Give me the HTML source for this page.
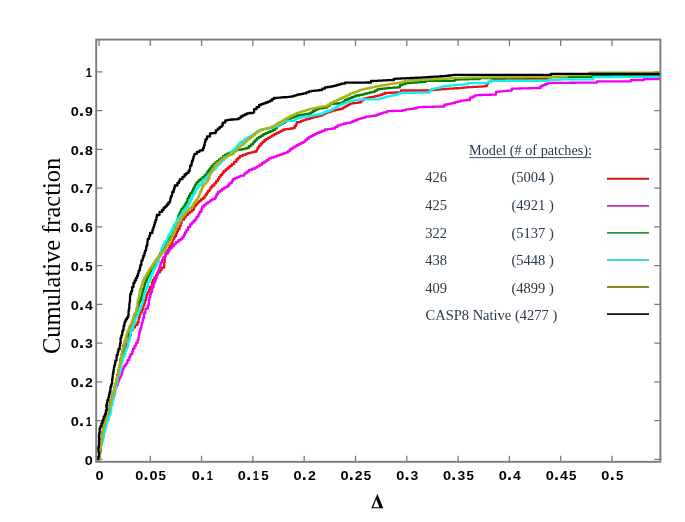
<!DOCTYPE html><html><head><meta charset="utf-8"><style>html,body{margin:0;padding:0;background:#fff;}svg{display:block;will-change:transform;}</style></head><body>
<svg width="685" height="522" viewBox="0 0 685 522">
<rect width="685" height="522" fill="#fff"/>
<defs><clipPath id="c"><rect x="96.2" y="39.6" width="564.1999999999999" height="422.2"/></clipPath></defs>
<path d="M99.0,461.8V455.8M99.0,39.6V45.9M150.3,461.8V455.8M150.3,39.6V45.9M201.6,461.8V455.8M201.6,39.6V45.9M252.9,461.8V455.8M252.9,39.6V45.9M304.2,461.8V455.8M304.2,39.6V45.9M355.5,461.8V455.8M355.5,39.6V45.9M406.8,461.8V455.8M406.8,39.6V45.9M458.1,461.8V455.8M458.1,39.6V45.9M509.4,461.8V455.8M509.4,39.6V45.9M560.7,461.8V455.8M560.7,39.6V45.9M612.0,461.8V455.8M612.0,39.6V45.9M96.2,459.3H102.4M660.4,459.3H654.1999999999999M96.2,420.6H102.4M660.4,420.6H654.1999999999999M96.2,381.8H102.4M660.4,381.8H654.1999999999999M96.2,343.1H102.4M660.4,343.1H654.1999999999999M96.2,304.3H102.4M660.4,304.3H654.1999999999999M96.2,265.6H102.4M660.4,265.6H654.1999999999999M96.2,226.8H102.4M660.4,226.8H654.1999999999999M96.2,188.1H102.4M660.4,188.1H654.1999999999999M96.2,149.3H102.4M660.4,149.3H654.1999999999999M96.2,110.6H102.4M660.4,110.6H654.1999999999999M96.2,71.8H102.4M660.4,71.8H654.1999999999999" stroke="#7c7c7c" stroke-width="1.3" fill="none"/>
<g clip-path="url(#c)" fill="none" stroke-width="2.3" stroke-linejoin="round">
<polyline points="99.00,459.30 98.87,459.30 98.87,456.89 99.92,456.89 99.92,454.48 99.27,454.48 99.27,452.06 99.95,452.06 99.95,449.65 100.74,449.65 100.74,447.24 100.16,447.24 100.16,444.82 100.93,444.82 100.93,442.41 101.00,442.41 101.00,440.00 101.98,440.00 101.98,437.50 102.22,437.50 102.22,435.00 102.12,435.00 102.12,432.50 103.00,432.50 103.00,430.00 104.04,430.00 104.04,427.50 103.77,427.50 103.77,425.00 104.70,425.00 104.70,422.50 105.50,422.50 105.50,420.00 106.37,420.00 106.37,417.50 107.24,417.50 107.24,415.00 107.71,415.00 107.71,412.50 108.50,412.50 108.50,410.00 108.72,410.00 108.72,407.50 110.21,407.50 110.21,405.00 110.46,405.00 110.46,402.50 111.00,402.50 111.00,400.00 112.12,400.00 112.12,397.68 112.55,397.68 112.55,395.35 112.72,395.35 112.72,393.02 114.23,393.02 114.23,390.70 114.14,390.70 114.14,388.38 114.84,388.38 114.84,386.05 116.20,386.05 116.20,383.72 116.60,383.72 116.60,381.40 117.03,381.40 117.03,379.10 117.61,379.10 117.61,376.80 118.56,376.80 118.56,374.50 118.31,374.50 118.31,372.20 118.64,372.20 118.64,369.90 119.65,369.90 119.65,367.60 119.84,367.60 119.84,365.30 120.60,365.30 120.60,363.00 120.98,363.00 120.98,360.60 122.08,360.60 122.08,358.20 122.48,358.20 122.48,355.80 123.12,355.80 123.12,353.40 123.50,353.40 123.50,351.00 124.06,351.00 124.06,348.80 125.41,348.80 125.41,346.60 126.86,346.60 126.86,344.40 127.38,344.40 127.38,342.20 128.50,342.20 128.50,340.00 128.82,340.00 128.82,337.50 129.63,337.50 129.63,335.00 130.84,335.00 130.84,332.50 131.00,332.50 131.00,330.00 132.75,330.00 132.75,327.50 135.00,327.50 135.00,325.00 137.40,325.00 137.40,322.50 138.56,322.50 138.56,319.83 138.88,319.83 138.88,317.17 139.70,317.17 139.70,314.50 140.41,314.50 140.41,312.20 142.04,312.20 142.04,309.90 142.84,309.90 142.84,307.60 143.26,307.60 143.26,305.30 144.30,305.30 144.30,303.00 145.00,303.00 145.00,300.33 146.01,300.33 146.01,297.67 146.60,297.67 146.60,295.00 147.42,295.00 147.42,292.33 148.97,292.33 148.97,289.67 150.00,289.67 150.00,287.00 151.80,287.00 151.80,284.60 152.11,284.60 152.11,282.30 152.90,282.30 152.90,280.00 154.30,280.00 154.30,277.50 156.00,277.50 156.00,275.00 157.51,275.00 157.51,272.50 160.00,272.50 160.00,270.00 161.67,270.00 161.67,267.60 164.30,267.60 164.30,265.20 164.24,265.20 164.24,262.35 164.60,262.35 164.60,259.50 164.79,259.50 164.79,256.60 165.60,256.60 165.60,253.70 166.33,253.70 166.33,251.80 167.58,251.80 167.58,249.90 169.00,249.90 169.00,248.00 170.11,248.00 170.11,245.70 171.51,245.70 171.51,243.40 172.34,243.40 172.34,241.10 172.92,241.10 172.92,238.80 174.30,238.80 174.30,236.50 175.85,236.50 175.85,234.00 176.77,234.00 176.77,231.50 178.00,231.50 178.00,229.00 179.62,229.00 179.62,226.00 180.60,226.00 180.60,223.00 181.60,223.00 181.60,219.70 184.01,219.70 184.01,217.35 185.80,217.35 185.80,215.00 187.90,215.00 187.90,213.12 190.00,213.12 190.00,211.56 192.10,211.56 192.10,209.80 193.81,209.80 193.81,207.95 194.32,207.95 194.32,206.10 195.85,206.10 195.85,204.25 197.40,204.25 197.40,202.40 199.17,202.40 199.17,201.04 200.93,201.04 200.93,199.39 202.70,199.39 202.70,198.20 204.42,198.20 204.42,196.35 205.56,196.35 205.56,194.50 206.97,194.50 206.97,192.65 208.00,192.65 208.00,190.80 209.75,190.80 209.75,189.03 210.55,189.03 210.55,187.27 212.20,187.27 212.20,185.50 214.30,185.50 214.30,183.40 215.99,183.40 215.99,181.20 217.95,181.20 217.95,179.00 219.10,179.00 219.10,176.80 220.58,176.80 220.58,174.87 222.41,174.87 222.41,172.93 223.70,172.93 223.70,171.00 225.72,171.00 225.72,169.35 227.75,169.35 227.75,167.53 229.78,167.53 229.78,165.88 231.80,165.88 231.80,164.10 234.10,164.10 234.10,161.81 236.40,161.81 236.40,159.50 238.10,159.50 238.10,157.96 239.80,157.96 239.80,156.10 242.70,156.10 242.70,154.95 245.60,154.95 245.60,153.80 247.90,153.80 247.90,153.20 250.20,153.20 250.20,152.60 252.50,152.60 252.50,152.05 254.80,152.05 254.80,151.50 256.70,151.50 256.70,149.70 257.59,149.70 257.59,147.67 258.99,147.67 258.99,145.63 260.70,145.63 260.70,143.60 262.50,143.60 262.50,141.93 264.30,141.93 264.30,140.24 266.10,140.24 266.10,138.90 268.10,138.90 268.10,137.72 270.10,137.72 270.10,136.55 272.10,136.55 272.10,135.38 274.10,135.38 274.10,134.20 276.45,134.20 276.45,133.02 278.80,133.02 278.80,131.85 281.15,131.85 281.15,130.68 283.50,130.68 283.50,129.50 285.85,129.50 285.85,129.18 288.20,129.18 288.20,128.85 290.55,128.85 290.55,128.52 292.90,128.52 292.90,128.20 294.63,128.20 294.63,126.20 295.86,126.20 295.86,124.20 296.90,124.20 296.90,122.20 301.00,122.20 301.00,120.80 303.32,120.80 303.32,120.12 305.65,120.12 305.65,119.45 307.98,119.45 307.98,118.77 310.30,118.77 310.30,118.10 312.65,118.10 312.65,117.45 315.00,117.45 315.00,116.80 317.35,116.80 317.35,116.15 319.70,116.15 319.70,115.50 322.35,115.50 322.35,114.25 325.00,114.25 325.00,113.00 327.50,113.00 327.50,112.22 330.00,112.22 330.00,111.45 332.50,111.45 332.50,110.68 335.00,110.68 335.00,109.90 338.10,109.90 338.10,109.25 341.20,109.25 341.20,108.60 343.38,108.60 343.38,107.35 345.55,107.35 345.55,106.10 347.72,106.10 347.72,104.85 349.90,104.85 349.90,103.60 352.80,103.60 352.80,103.20 355.70,103.20 355.70,102.80 358.60,102.80 358.60,102.40 361.10,102.40 361.10,100.37 363.60,100.37 363.60,98.60 365.78,98.60 365.78,98.15 367.95,98.15 367.95,97.70 370.12,97.70 370.12,97.25 372.30,97.25 372.30,96.80 374.80,96.80 374.80,96.17 377.30,96.17 377.30,95.53 379.80,95.53 379.80,94.90 382.30,94.90 382.30,93.95 384.80,93.95 384.80,93.00 387.28,93.00 387.28,92.88 389.76,92.88 389.76,92.76 392.24,92.76 392.24,92.64 394.72,92.64 394.72,92.52 397.20,92.52 397.20,92.40 401.00,92.40 401.00,90.50 403.35,90.50 403.35,90.50 405.71,90.50 405.71,90.50 408.06,90.50 408.06,90.50 410.42,90.50 410.42,90.50 412.77,90.50 412.77,90.50 415.13,90.50 415.13,90.50 417.48,90.50 417.48,90.50 419.84,90.50 419.84,90.50 422.19,90.50 422.19,90.50 424.55,90.50 424.55,90.50 426.90,90.50 426.90,90.50 429.40,90.50 429.40,90.29 431.90,90.29 431.90,90.07 434.40,90.07 434.40,89.86 436.90,89.86 436.90,89.64 439.40,89.64 439.40,89.43 441.90,89.43 441.90,89.21 444.40,89.21 444.40,89.00 446.73,89.00 446.73,88.85 449.07,88.85 449.07,88.70 451.40,88.70 451.40,88.55 453.73,88.55 453.73,88.40 456.07,88.40 456.07,88.25 458.40,88.25 458.40,88.10 460.75,88.10 460.75,87.88 463.10,87.88 463.10,87.65 465.45,87.65 465.45,87.42 467.80,87.42 467.80,87.20 470.24,87.20 470.24,87.08 472.68,87.08 472.68,86.96 475.12,86.96 475.12,86.84 477.56,86.84 477.56,86.72 480.00,86.72 480.00,86.60 482.50,86.60 482.50,86.30 485.00,86.30 485.00,86.00 486.94,86.00 486.94,84.00 488.00,84.00 488.00,82.00 491.00,82.00 491.00,80.60 493.33,80.60 493.33,80.27 495.67,80.27 495.67,79.93 498.00,79.93 498.00,79.60 500.33,79.60 500.33,79.27 502.67,79.27 502.67,78.93 505.00,78.93 505.00,78.60 507.28,78.60 507.28,78.59 509.56,78.59 509.56,78.59 511.83,78.59 511.83,78.58 514.11,78.58 514.11,78.58 516.39,78.58 516.39,78.57 518.67,78.57 518.67,78.57 520.94,78.57 520.94,78.56 523.22,78.56 523.22,78.56 525.50,78.56 525.50,78.55 527.78,78.55 527.78,78.54 530.06,78.54 530.06,78.54 532.33,78.54 532.33,78.53 534.61,78.53 534.61,78.53 536.89,78.53 536.89,78.52 539.17,78.52 539.17,78.52 541.44,78.52 541.44,78.51 543.72,78.51 543.72,78.51 546.00,78.51 546.00,78.50 548.00,78.50 548.00,77.00 550.22,77.00 550.22,76.98 552.43,76.98 552.43,76.96 554.65,76.96 554.65,76.94 556.86,76.94 556.86,76.92 559.08,76.92 559.08,76.90 561.29,76.90 561.29,76.88 563.51,76.88 563.51,76.86 565.73,76.86 565.73,76.84 567.94,76.84 567.94,76.82 570.16,76.82 570.16,76.80 572.37,76.80 572.37,76.78 574.59,76.78 574.59,76.76 576.80,76.76 576.80,76.75 579.02,76.75 579.02,76.73 581.24,76.73 581.24,76.71 583.45,76.71 583.45,76.69 585.67,76.69 585.67,76.67 587.88,76.67 587.88,76.65 590.10,76.65 590.10,76.63 592.31,76.63 592.31,76.61 594.53,76.61 594.53,76.59 596.75,76.59 596.75,76.57 598.96,76.57 598.96,76.55 601.18,76.55 601.18,76.53 603.39,76.53 603.39,76.51 605.61,76.51 605.61,76.49 607.82,76.49 607.82,76.47 610.04,76.47 610.04,76.45 612.25,76.45 612.25,76.43 614.47,76.43 614.47,76.41 616.69,76.41 616.69,76.39 618.90,76.39 618.90,76.37 621.12,76.37 621.12,76.35 623.33,76.35 623.33,76.33 625.55,76.33 625.55,76.31 627.76,76.31 627.76,76.29 629.98,76.29 629.98,76.27 632.20,76.27 632.20,76.25 634.41,76.25 634.41,76.24 636.63,76.24 636.63,76.22 638.84,76.22 638.84,76.20 641.06,76.20 641.06,76.18 643.27,76.18 643.27,76.16 645.49,76.16 645.49,76.14 647.71,76.14 647.71,76.12 649.92,76.12 649.92,76.10 652.14,76.10 652.14,76.08 654.35,76.08 654.35,76.06 656.57,76.06 656.57,76.04 658.78,76.04 658.78,76.02 661.00,76.02 661.00,76.00" stroke="#e8101a"/>
<polyline points="99.00,459.30 98.90,459.30 98.90,456.92 99.25,456.92 99.25,454.53 99.41,454.53 99.41,452.15 100.16,452.15 100.16,449.77 100.74,449.77 100.74,447.38 100.50,447.38 100.50,445.00 100.65,445.00 100.65,442.86 101.63,442.86 101.63,440.71 101.63,440.71 101.63,438.57 102.70,438.57 102.70,436.43 103.08,436.43 103.08,434.29 103.71,434.29 103.71,432.14 104.00,432.14 104.00,430.00 105.07,430.00 105.07,427.50 105.16,427.50 105.16,425.00 106.12,425.00 106.12,422.50 106.50,422.50 106.50,420.00 107.58,420.00 107.58,417.50 107.84,417.50 107.84,415.00 108.79,415.00 108.79,412.50 109.50,412.50 109.50,410.00 109.94,410.00 109.94,407.50 110.42,407.50 110.42,405.00 111.37,405.00 111.37,402.50 112.30,402.50 112.30,400.00 112.47,400.00 112.47,397.86 113.49,397.86 113.49,395.71 114.39,395.71 114.39,393.57 115.10,393.57 115.10,391.43 115.16,391.43 115.16,389.29 115.51,389.29 115.51,387.14 116.50,387.14 116.50,385.00 117.78,385.00 117.78,382.50 118.50,382.50 118.50,380.00 119.42,380.00 119.42,377.25 120.70,377.25 120.70,374.50 122.14,374.50 122.14,371.80 122.58,371.80 122.58,369.10 123.60,369.10 123.60,366.40 125.13,366.40 125.13,364.70 126.40,364.70 126.40,363.00 127.47,363.00 127.47,360.10 129.30,360.10 129.30,357.20 130.29,357.20 130.29,354.35 132.20,354.35 132.20,351.50 133.08,351.50 133.08,348.60 134.50,348.60 134.50,345.70 136.14,345.70 136.14,342.85 137.60,342.85 137.60,340.00 138.42,340.00 138.42,337.65 138.72,337.65 138.72,335.30 139.28,335.30 139.28,332.95 139.70,332.95 139.70,330.60 140.53,330.60 140.53,328.00 141.36,328.00 141.36,325.40 141.80,325.40 141.80,322.80 142.60,322.80 142.60,320.20 143.20,320.20 143.20,317.90 144.08,317.90 144.08,315.60 143.94,315.60 143.94,313.30 145.31,313.30 145.31,311.00 145.50,311.00 145.50,308.70 147.80,308.70 147.80,305.30 148.74,305.30 148.74,302.60 148.89,302.60 148.89,299.90 149.50,299.90 149.50,297.20 150.18,297.20 150.18,294.62 150.89,294.62 150.89,292.05 152.07,292.05 152.07,289.47 152.40,289.47 152.40,286.90 153.64,286.90 153.64,284.60 153.95,284.60 153.95,282.30 155.20,282.30 155.20,280.00 155.93,280.00 155.93,277.80 157.00,277.80 157.00,275.60 157.40,275.60 157.40,273.00 158.11,273.00 158.11,270.40 159.28,270.40 159.28,267.80 159.90,267.80 159.90,265.20 160.67,265.20 160.67,262.53 161.99,262.53 161.99,259.87 163.30,259.87 163.30,257.20 165.16,257.20 165.16,255.36 165.70,255.36 165.70,253.52 167.89,253.52 167.89,251.68 168.97,251.68 168.97,249.84 170.20,249.84 170.20,248.00 172.13,248.00 172.13,246.05 174.07,246.05 174.07,244.04 176.00,244.04 176.00,242.20 178.30,242.20 178.30,240.24 180.60,240.24 180.60,238.80 182.52,238.80 182.52,236.90 184.00,236.90 184.00,235.00 184.90,235.00 184.90,232.50 186.40,232.50 186.40,230.00 188.11,230.00 188.11,227.25 190.00,227.25 190.00,224.50 191.77,224.50 191.77,222.71 193.53,222.71 193.53,220.74 195.30,220.74 195.30,219.30 196.50,219.30 196.50,216.83 198.39,216.83 198.39,214.37 199.50,214.37 199.50,211.90 201.35,211.90 201.35,209.25 202.20,209.25 202.20,206.60 204.00,206.60 204.00,205.09 205.80,205.09 205.80,203.40 207.93,203.40 207.93,202.05 210.07,202.05 210.07,200.34 212.20,200.34 212.20,199.20 214.80,199.20 214.80,198.00 215.85,198.00 215.85,196.00 216.62,196.00 216.62,194.00 218.00,194.00 218.00,192.00 220.00,192.00 220.00,190.56 222.00,190.56 222.00,189.00 224.10,189.00 224.10,187.59 226.20,187.59 226.20,186.56 228.30,186.56 228.30,185.00 229.61,185.00 229.61,183.03 231.83,183.03 231.83,181.07 232.90,181.07 232.90,179.10 234.93,179.10 234.93,178.22 236.95,178.22 236.95,177.35 238.97,177.35 238.97,176.47 241.00,176.47 241.00,175.60 244.40,175.60 244.40,173.30 246.70,173.30 246.70,171.61 249.00,171.61 249.00,169.90 251.90,169.90 251.90,168.75 254.80,168.75 254.80,167.60 257.20,167.60 257.20,166.29 259.60,166.29 259.60,164.64 262.00,164.64 262.00,163.00 264.27,163.00 264.27,161.58 266.53,161.58 266.53,160.10 268.80,160.10 268.80,158.40 271.47,158.40 271.47,157.50 274.13,157.50 274.13,156.60 276.80,156.60 276.80,155.70 279.15,155.70 279.15,154.85 281.50,154.85 281.50,154.00 283.85,154.00 283.85,153.15 286.20,153.15 286.20,152.30 288.20,152.30 288.20,150.85 290.20,150.85 290.20,149.00 292.43,149.00 292.43,147.67 294.67,147.67 294.67,146.33 296.90,146.33 296.90,145.00 299.13,145.00 299.13,143.87 301.37,143.87 301.37,142.73 303.60,142.73 303.60,141.60 305.40,141.60 305.40,139.85 307.20,139.85 307.20,138.51 309.00,138.51 309.00,136.90 311.00,136.90 311.00,135.90 313.00,135.90 313.00,134.90 315.00,134.90 315.00,133.90 317.00,133.90 317.00,132.90 319.67,132.90 319.67,131.77 322.33,131.77 322.33,130.63 325.00,130.63 325.00,129.50 327.50,129.50 327.50,129.17 330.00,129.17 330.00,128.83 332.50,128.83 332.50,128.50 335.00,128.50 335.00,127.06 337.50,127.06 337.50,125.40 340.60,125.40 340.60,124.45 343.70,124.45 343.70,123.50 346.80,123.50 346.80,122.90 349.90,122.90 349.90,122.30 352.40,122.30 352.40,121.27 354.90,121.27 354.90,120.23 357.40,120.23 357.40,119.20 359.57,119.20 359.57,118.58 361.75,118.58 361.75,117.95 363.93,117.95 363.93,117.33 366.10,117.33 366.10,116.70 369.00,116.70 369.00,116.30 371.90,116.30 371.90,115.90 374.80,115.90 374.80,115.50 376.98,115.50 376.98,114.70 379.15,114.70 379.15,113.90 381.32,113.90 381.32,113.10 383.50,113.10 383.50,112.30 387.30,112.30 387.30,111.10 389.84,111.10 389.84,111.04 392.38,111.04 392.38,110.98 394.92,110.98 394.92,110.92 397.46,110.92 397.46,110.86 400.00,110.86 400.00,110.80 402.90,110.80 402.90,110.10 405.80,110.10 405.80,109.40 408.75,109.40 408.75,109.10 411.70,109.10 411.70,108.80 414.03,108.80 414.03,108.23 416.37,108.23 416.37,107.67 418.70,107.67 418.70,107.10 420.92,107.10 420.92,107.04 423.14,107.04 423.14,106.98 425.36,106.98 425.36,106.92 427.58,106.92 427.58,106.86 429.80,106.86 429.80,106.80 432.02,106.80 432.02,106.74 434.24,106.74 434.24,106.68 436.46,106.68 436.46,106.62 438.68,106.62 438.68,106.56 440.90,106.56 440.90,106.50 444.40,106.50 444.40,104.70 447.13,104.70 447.13,104.13 449.87,104.13 449.87,103.57 452.60,103.57 452.60,103.00 455.30,103.00 455.30,102.20 458.00,102.20 458.00,101.40 460.70,101.40 460.70,100.60 463.65,100.60 463.65,100.30 466.60,100.30 466.60,100.00 470.00,100.00 470.00,97.70 472.40,97.70 472.40,96.55 474.80,96.55 474.80,95.40 477.40,95.40 477.40,95.20 480.00,95.20 480.00,95.00 482.23,95.00 482.23,94.93 484.47,94.93 484.47,94.87 486.70,94.87 486.70,94.80 488.93,94.80 488.93,94.73 491.17,94.73 491.17,94.67 493.40,94.67 493.40,94.60 496.00,94.60 496.00,91.90 498.38,91.90 498.38,91.64 500.76,91.64 500.76,91.38 503.14,91.38 503.14,91.12 505.52,91.12 505.52,90.86 507.90,90.86 507.90,90.60 511.80,90.60 511.80,88.70 514.18,88.70 514.18,88.64 516.56,88.64 516.56,88.57 518.95,88.57 518.95,88.51 521.33,88.51 521.33,88.45 523.71,88.45 523.71,88.38 526.09,88.38 526.09,88.32 528.47,88.32 528.47,88.25 530.85,88.25 530.85,88.19 533.24,88.19 533.24,88.13 535.62,88.13 535.62,88.06 538.00,88.06 538.00,88.00 540.70,88.00 540.70,86.00 542.90,86.00 542.90,85.13 545.10,85.13 545.10,84.27 547.30,84.27 547.30,83.40 549.00,83.40 549.00,82.90 551.30,82.90 551.30,82.89 553.60,82.89 553.60,82.87 555.90,82.87 555.90,82.86 558.20,82.86 558.20,82.84 560.50,82.84 560.50,82.83 562.80,82.83 562.80,82.81 565.10,82.81 565.10,82.80 567.40,82.80 567.40,82.78 569.70,82.78 569.70,82.77 572.00,82.77 572.00,82.75 574.30,82.75 574.30,82.73 576.60,82.73 576.60,82.72 578.90,82.72 578.90,82.70 581.20,82.70 581.20,82.69 583.50,82.69 583.50,82.67 585.80,82.67 585.80,82.66 588.10,82.66 588.10,82.64 590.40,82.64 590.40,82.63 592.70,82.63 592.70,82.61 595.00,82.61 595.00,82.60 597.00,82.60 597.00,81.30 599.36,81.30 599.36,81.30 601.71,81.30 601.71,81.30 604.07,81.30 604.07,81.30 606.43,81.30 606.43,81.30 608.79,81.30 608.79,81.30 611.14,81.30 611.14,81.30 613.50,81.30 613.50,81.30 615.86,81.30 615.86,81.30 618.21,81.30 618.21,81.30 620.57,81.30 620.57,81.30 622.93,81.30 622.93,81.30 625.29,81.30 625.29,81.30 627.64,81.30 627.64,81.30 630.00,81.30 630.00,81.30 631.00,81.30 631.00,80.00 633.40,80.00 633.40,80.00 635.80,80.00 635.80,80.00 638.20,80.00 638.20,80.00 640.60,80.00 640.60,80.00 643.00,80.00 643.00,80.00 644.00,80.00 644.00,79.00 646.43,79.00 646.43,79.00 648.86,79.00 648.86,79.00 651.29,79.00 651.29,79.00 653.71,79.00 653.71,79.00 656.14,79.00 656.14,79.00 658.57,79.00 658.57,79.00 661.00,79.00 661.00,79.00" stroke="#f000f0"/>
<polyline points="99.00,459.30 99.21,459.30 99.21,456.92 99.06,456.92 99.06,454.53 100.04,454.53 100.04,452.15 100.46,452.15 100.46,449.77 100.30,449.77 100.30,447.38 100.50,447.38 100.50,445.00 100.53,445.00 100.53,442.50 101.50,442.50 101.50,440.00 102.10,440.00 102.10,437.50 101.79,437.50 101.79,435.00 102.43,435.00 102.43,432.50 103.00,432.50 103.00,430.00 103.50,430.00 103.50,427.50 104.46,427.50 104.46,425.00 105.19,425.00 105.19,422.50 105.50,422.50 105.50,420.00 106.19,420.00 106.19,417.50 107.20,417.50 107.20,415.00 107.46,415.00 107.46,412.50 108.30,412.50 108.30,410.00 109.27,410.00 109.27,407.50 109.58,407.50 109.58,405.00 110.32,405.00 110.32,402.50 110.90,402.50 110.90,400.00 111.79,400.00 111.79,397.68 112.19,397.68 112.19,395.35 113.27,395.35 113.27,393.02 114.00,393.02 114.00,390.70 114.29,390.70 114.29,388.38 115.25,388.38 115.25,386.05 115.55,386.05 115.55,383.72 116.10,383.72 116.10,381.40 116.72,381.40 116.72,379.10 117.14,379.10 117.14,376.80 117.23,376.80 117.23,374.50 118.30,374.50 118.30,372.20 118.38,372.20 118.38,369.90 119.34,369.90 119.34,367.60 119.51,367.60 119.51,365.30 120.10,365.30 120.10,363.00 120.59,363.00 120.59,360.70 120.59,360.70 120.59,358.40 121.91,358.40 121.91,356.10 121.73,356.10 121.73,353.80 122.40,353.80 122.40,351.50 123.31,351.50 123.31,349.20 123.21,349.20 123.21,346.90 123.50,346.90 123.50,344.60 124.58,344.60 124.58,342.30 125.00,342.30 125.00,340.00 125.92,340.00 125.92,337.65 126.71,337.65 126.71,335.30 127.97,335.30 127.97,332.95 128.50,332.95 128.50,330.60 129.42,330.60 129.42,328.48 129.90,328.48 129.90,326.36 131.46,326.36 131.46,324.24 132.43,324.24 132.43,322.12 133.00,322.12 133.00,320.00 134.13,320.00 134.13,317.74 134.30,317.74 134.30,315.48 136.11,315.48 136.11,313.22 136.13,313.22 136.13,310.96 137.40,310.96 137.40,308.70 137.70,308.70 137.70,306.52 138.86,306.52 138.86,304.35 138.96,304.35 138.96,302.18 140.00,302.18 140.00,300.00 140.96,300.00 140.96,297.88 141.58,297.88 141.58,295.75 142.22,295.75 142.22,293.62 142.60,293.62 142.60,291.50 143.10,291.50 143.10,289.20 144.16,289.20 144.16,286.90 144.41,286.90 144.41,284.60 145.14,284.60 145.14,282.30 146.00,282.30 146.00,280.00 146.92,280.00 146.92,277.75 147.86,277.75 147.86,275.50 149.04,275.50 149.04,273.25 150.50,273.25 150.50,271.00 151.19,271.00 151.19,269.08 152.31,269.08 152.31,267.17 153.75,267.17 153.75,265.25 154.78,265.25 154.78,263.33 156.29,263.33 156.29,261.42 157.00,261.42 157.00,259.50 158.51,259.50 158.51,257.20 159.61,257.20 159.61,254.90 160.32,254.90 160.32,252.60 161.62,252.60 161.62,250.30 163.00,250.30 163.00,248.00 163.75,248.00 163.75,245.70 164.94,245.70 164.94,243.40 166.16,243.40 166.16,241.10 167.71,241.10 167.71,238.80 169.00,238.80 169.00,236.50 170.19,236.50 170.19,234.33 171.30,234.33 171.30,232.17 172.10,232.17 172.10,230.00 173.40,230.00 173.40,227.50 175.40,227.50 175.40,225.00 176.35,225.00 176.35,222.15 177.40,222.15 177.40,219.30 178.24,219.30 178.24,217.18 178.52,217.18 178.52,215.05 179.50,215.05 179.50,212.93 180.60,212.93 180.60,210.80 181.53,210.80 181.53,208.70 183.42,208.70 183.42,206.60 184.80,206.60 184.80,204.50 185.98,204.50 185.98,202.38 187.39,202.38 187.39,200.25 187.61,200.25 187.61,198.12 189.00,198.12 189.00,196.00 190.07,196.00 190.07,193.40 192.10,193.40 192.10,190.80 193.06,190.80 193.06,188.70 194.27,188.70 194.27,186.60 195.30,186.60 195.30,184.50 196.41,184.50 196.41,182.40 198.50,182.40 198.50,180.30 200.60,180.30 200.60,178.85 202.70,178.85 202.70,177.10 204.60,177.10 204.60,175.27 206.50,175.27 206.50,173.30 207.52,173.30 207.52,171.46 208.87,171.46 208.87,169.62 210.38,169.62 210.38,167.78 211.53,167.78 211.53,165.94 213.40,165.94 213.40,164.10 215.30,164.10 215.30,162.52 217.20,162.52 217.20,161.11 219.10,161.11 219.10,159.50 221.03,159.50 221.03,158.07 222.97,158.07 222.97,156.14 224.90,156.14 224.90,154.90 227.20,154.90 227.20,153.75 229.50,153.75 229.50,152.60 232.35,152.60 232.35,151.45 235.20,151.45 235.20,150.30 237.50,150.30 237.50,149.93 239.80,149.93 239.80,149.57 242.10,149.57 242.10,149.20 244.40,149.20 244.40,148.60 246.70,148.60 246.70,148.00 248.85,148.00 248.85,146.27 251.00,146.27 251.00,144.30 253.28,144.30 253.28,142.30 254.74,142.30 254.74,140.30 256.70,140.30 256.70,138.30 258.93,138.30 258.93,136.91 261.17,136.91 261.17,135.53 263.40,135.53 263.40,134.20 265.75,134.20 265.75,133.20 268.10,133.20 268.10,132.20 270.45,132.20 270.45,131.20 272.80,131.20 272.80,130.20 274.80,130.20 274.80,128.30 276.80,128.30 276.80,126.20 278.71,126.20 278.71,125.18 280.63,125.18 280.63,123.85 282.54,123.85 282.54,123.00 284.46,123.00 284.46,121.87 286.37,121.87 286.37,120.40 288.29,120.40 288.29,119.20 290.20,119.20 290.20,118.10 292.43,118.10 292.43,117.23 294.67,117.23 294.67,116.37 296.90,116.37 296.90,115.50 299.32,115.50 299.32,115.10 301.74,115.10 301.74,114.70 304.16,114.70 304.16,114.30 306.58,114.30 306.58,113.90 309.00,113.90 309.00,113.50 311.00,113.50 311.00,112.33 313.00,112.33 313.00,111.15 315.00,111.15 315.00,109.97 317.00,109.97 317.00,108.80 319.67,108.80 319.67,108.33 322.33,108.33 322.33,107.87 325.00,107.87 325.00,107.40 327.50,107.40 327.50,105.63 330.00,105.63 330.00,104.20 332.24,104.20 332.24,103.96 334.48,103.96 334.48,103.72 336.72,103.72 336.72,103.48 338.96,103.48 338.96,103.24 341.20,103.24 341.20,103.00 343.10,103.00 343.10,101.67 345.00,101.67 345.00,99.90 347.22,99.90 347.22,99.02 349.44,99.02 349.44,98.14 351.66,98.14 351.66,97.26 353.88,97.26 353.88,96.38 356.10,96.38 356.10,95.50 359.25,95.50 359.25,94.90 362.40,94.90 362.40,94.30 364.88,94.30 364.88,93.67 367.35,93.67 367.35,93.05 369.82,93.05 369.82,92.42 372.30,92.42 372.30,91.80 374.80,91.80 374.80,90.55 377.30,90.55 377.30,89.30 379.80,89.30 379.80,88.97 382.30,88.97 382.30,88.65 384.80,88.65 384.80,88.33 387.30,88.33 387.30,88.00 389.77,88.00 389.77,87.85 392.25,87.85 392.25,87.70 394.73,87.70 394.73,87.55 397.20,87.55 397.20,87.40 400.00,87.40 400.00,85.00 402.50,85.00 402.50,84.15 405.00,84.15 405.00,83.30 407.46,83.30 407.46,83.10 409.91,83.10 409.91,82.90 412.37,82.90 412.37,82.70 414.83,82.70 414.83,82.50 417.29,82.50 417.29,82.30 419.74,82.30 419.74,82.10 422.20,82.10 422.20,81.90 425.70,81.90 425.70,80.80 427.94,80.80 427.94,80.80 430.18,80.80 430.18,80.80 432.43,80.80 432.43,80.80 434.67,80.80 434.67,80.80 436.91,80.80 436.91,80.80 439.15,80.80 439.15,80.80 441.39,80.80 441.39,80.80 443.63,80.80 443.63,80.80 445.88,80.80 445.88,80.80 448.12,80.80 448.12,80.80 450.36,80.80 450.36,80.80 452.60,80.80 452.60,80.80 454.90,80.80 454.90,79.60 457.24,79.60 457.24,79.53 459.59,79.53 459.59,79.47 461.93,79.47 461.93,79.40 464.28,79.40 464.28,79.33 466.62,79.33 466.62,79.27 468.97,79.27 468.97,79.20 471.31,79.20 471.31,79.13 473.66,79.13 473.66,79.07 476.00,79.07 476.00,79.00 480.00,79.00 480.00,78.00 482.50,78.00 482.50,78.03 485.00,78.03 485.00,78.05 487.50,78.05 487.50,78.07 490.00,78.07 490.00,78.10 492.20,78.10 492.20,78.07 494.40,78.07 494.40,78.04 496.60,78.04 496.60,78.01 498.80,78.01 498.80,77.97 501.00,77.97 501.00,77.94 503.20,77.94 503.20,77.91 505.40,77.91 505.40,77.88 507.60,77.88 507.60,77.85 509.80,77.85 509.80,77.82 512.00,77.82 512.00,77.79 514.20,77.79 514.20,77.75 516.40,77.75 516.40,77.72 518.60,77.72 518.60,77.69 520.80,77.69 520.80,77.66 523.00,77.66 523.00,77.63 525.20,77.63 525.20,77.60 527.40,77.60 527.40,77.57 529.60,77.57 529.60,77.53 531.80,77.53 531.80,77.50 534.00,77.50 534.00,77.47 536.20,77.47 536.20,77.44 538.40,77.44 538.40,77.41 540.60,77.41 540.60,77.38 542.80,77.38 542.80,77.35 545.00,77.35 545.00,77.31 547.20,77.31 547.20,77.28 549.40,77.28 549.40,77.25 551.60,77.25 551.60,77.22 553.80,77.22 553.80,77.19 556.00,77.19 556.00,77.16 558.20,77.16 558.20,77.13 560.40,77.13 560.40,77.09 562.60,77.09 562.60,77.06 564.80,77.06 564.80,77.03 567.00,77.03 567.00,77.00 569.27,77.00 569.27,76.98 571.55,76.98 571.55,76.96 573.82,76.96 573.82,76.95 576.09,76.95 576.09,76.93 578.36,76.93 578.36,76.91 580.64,76.91 580.64,76.89 582.91,76.89 582.91,76.87 585.18,76.87 585.18,76.85 587.45,76.85 587.45,76.84 589.73,76.84 589.73,76.82 592.00,76.82 592.00,76.80 593.00,76.80 593.00,75.00 595.27,75.00 595.27,75.00 597.53,75.00 597.53,75.00 599.80,75.00 599.80,75.00 602.07,75.00 602.07,75.00 604.33,75.00 604.33,75.00 606.60,75.00 606.60,75.00 608.87,75.00 608.87,75.00 611.13,75.00 611.13,75.00 613.40,75.00 613.40,75.00 615.67,75.00 615.67,75.00 617.93,75.00 617.93,75.00 620.20,75.00 620.20,75.00 622.47,75.00 622.47,75.00 624.73,75.00 624.73,75.00 627.00,75.00 627.00,75.00 629.27,75.00 629.27,75.00 631.53,75.00 631.53,75.00 633.80,75.00 633.80,75.00 636.07,75.00 636.07,75.00 638.33,75.00 638.33,75.00 640.60,75.00 640.60,75.00 642.87,75.00 642.87,75.00 645.13,75.00 645.13,75.00 647.40,75.00 647.40,75.00 649.67,75.00 649.67,75.00 651.93,75.00 651.93,75.00 654.20,75.00 654.20,75.00 656.47,75.00 656.47,75.00 658.73,75.00 658.73,75.00 661.00,75.00 661.00,75.00" stroke="#007f00"/>
<polyline points="99.00,459.30 99.00,459.30 99.00,455.00 99.75,455.00 99.75,452.50 100.01,452.50 100.01,450.00 100.09,450.00 100.09,447.50 101.00,447.50 101.00,445.00 101.96,445.00 101.96,442.86 102.60,442.86 102.60,440.71 102.47,440.71 102.47,438.57 103.51,438.57 103.51,436.43 103.84,436.43 103.84,434.29 104.34,434.29 104.34,432.14 105.00,432.14 105.00,430.00 105.25,430.00 105.25,427.50 106.33,427.50 106.33,425.00 106.76,425.00 106.76,422.50 107.50,422.50 107.50,420.00 108.63,420.00 108.63,417.50 109.24,417.50 109.24,415.00 110.51,415.00 110.51,412.50 111.00,412.50 111.00,410.00 111.32,410.00 111.32,407.50 111.34,407.50 111.34,405.00 112.49,405.00 112.49,402.50 112.60,402.50 112.60,400.00 113.45,400.00 113.45,397.68 113.51,397.68 113.51,395.35 114.57,395.35 114.57,393.02 114.72,393.02 114.72,390.70 115.23,390.70 115.23,388.38 115.94,388.38 115.94,386.05 116.23,386.05 116.23,383.72 117.20,383.72 117.20,381.40 117.47,381.40 117.47,379.10 117.76,379.10 117.76,376.80 118.32,376.80 118.32,374.50 119.63,374.50 119.63,372.20 120.24,372.20 120.24,369.90 120.29,369.90 120.29,367.60 120.86,367.60 120.86,365.30 121.30,365.30 121.30,363.00 122.17,363.00 122.17,360.91 123.19,360.91 123.19,358.82 123.07,358.82 123.07,356.73 124.32,356.73 124.32,354.64 125.36,354.64 125.36,352.55 125.39,352.55 125.39,350.45 126.40,350.45 126.40,348.36 127.49,348.36 127.49,346.27 128.19,346.27 128.19,344.18 128.05,344.18 128.05,342.09 129.20,342.09 129.20,340.00 129.56,340.00 129.56,337.65 130.37,337.65 130.37,335.30 130.50,335.30 130.50,332.95 131.10,332.95 131.10,330.60 131.57,330.60 131.57,328.52 132.92,328.52 132.92,326.44 133.39,326.44 133.39,324.36 134.54,324.36 134.54,322.28 135.10,322.28 135.10,320.20 135.55,320.20 135.55,317.90 136.53,317.90 136.53,315.60 137.97,315.60 137.97,313.30 138.67,313.30 138.67,311.00 139.70,311.00 139.70,308.70 140.74,308.70 140.74,306.40 141.74,306.40 141.74,304.10 142.27,304.10 142.27,301.80 143.13,301.80 143.13,299.50 143.70,299.50 143.70,297.20 144.11,297.20 144.11,294.62 144.90,294.62 144.90,292.05 145.69,292.05 145.69,289.47 146.60,289.47 146.60,286.90 147.90,286.90 147.90,284.60 148.05,284.60 148.05,282.30 149.50,282.30 149.50,280.00 150.44,280.00 150.44,277.75 150.96,277.75 150.96,275.50 152.21,275.50 152.21,273.25 153.00,273.25 153.00,271.00 153.67,271.00 153.67,268.70 155.30,268.70 155.30,266.40 156.55,266.40 156.55,264.10 157.23,264.10 157.23,261.80 158.70,261.80 158.70,259.50 158.86,259.50 158.86,257.20 159.62,257.20 159.62,254.90 160.74,254.90 160.74,252.60 161.28,252.60 161.28,250.30 161.60,250.30 161.60,248.00 163.07,248.00 163.07,245.10 164.50,245.10 164.50,242.20 166.13,242.20 166.13,240.30 167.14,240.30 167.14,238.40 167.90,238.40 167.90,236.50 168.93,236.50 168.93,234.57 170.50,234.57 170.50,232.63 171.40,232.63 171.40,230.70 172.82,230.70 172.82,227.85 173.70,227.85 173.70,225.00 175.36,225.00 175.36,223.13 176.59,223.13 176.59,221.26 177.92,221.26 177.92,219.39 179.08,219.39 179.08,217.51 180.21,217.51 180.21,215.64 181.61,215.64 181.61,213.77 182.70,213.77 182.70,211.90 183.84,211.90 183.84,209.78 185.62,209.78 185.62,207.66 186.90,207.66 186.90,205.54 188.70,205.54 188.70,203.42 190.00,203.42 190.00,201.30 190.72,201.30 190.72,199.20 191.91,199.20 191.91,197.10 192.72,197.10 192.72,195.00 193.96,195.00 193.96,192.90 195.30,192.90 195.30,190.80 196.48,190.80 196.48,188.87 197.68,188.87 197.68,186.93 199.00,186.93 199.00,185.00 201.46,185.00 201.46,182.50 203.00,182.50 203.00,180.00 204.72,180.00 204.72,178.59 206.45,178.59 206.45,176.53 208.18,176.53 208.18,174.75 209.90,174.75 209.90,173.30 211.14,173.30 211.14,171.58 212.54,171.58 212.54,169.87 214.73,169.87 214.73,168.15 215.93,168.15 215.93,166.43 217.92,166.43 217.92,164.72 219.10,164.72 219.10,163.00 220.94,163.00 220.94,161.27 222.78,161.27 222.78,159.73 224.62,159.73 224.62,158.05 226.46,158.05 226.46,156.34 228.30,156.34 228.30,154.90 230.49,154.90 230.49,153.18 231.97,153.18 231.97,151.45 233.17,151.45 233.17,149.72 235.20,149.72 235.20,148.00 236.75,148.00 236.75,146.10 238.26,146.10 238.26,144.20 239.80,144.20 239.80,142.30 242.10,142.30 242.10,141.05 244.40,141.05 244.40,139.11 246.70,139.11 246.70,137.70 249.00,137.70 249.00,136.55 251.30,136.55 251.30,135.40 253.18,135.40 253.18,134.04 255.06,134.04 255.06,132.79 256.94,132.79 256.94,131.61 258.82,131.61 258.82,130.49 260.70,130.49 260.70,129.50 263.05,129.50 263.05,129.18 265.40,129.18 265.40,128.85 267.75,128.85 267.75,128.52 270.10,128.52 270.10,128.20 272.33,128.20 272.33,127.30 274.57,127.30 274.57,126.40 276.80,126.40 276.80,125.50 278.82,125.50 278.82,124.33 280.85,124.33 280.85,123.15 282.88,123.15 282.88,121.97 284.90,121.97 284.90,120.80 287.57,120.80 287.57,120.80 290.23,120.80 290.23,120.80 292.90,120.80 292.90,120.80 294.90,120.80 294.90,119.29 296.90,119.29 296.90,118.10 299.57,118.10 299.57,117.60 302.25,117.60 302.25,117.10 304.93,117.10 304.93,116.60 307.60,116.60 307.60,116.10 310.02,116.10 310.02,115.70 312.44,115.70 312.44,115.30 314.86,115.30 314.86,114.90 317.28,114.90 317.28,114.50 319.70,114.50 319.70,114.10 321.76,114.10 321.76,113.30 323.82,113.30 323.82,112.50 325.88,112.50 325.88,111.70 327.94,111.70 327.94,110.90 330.00,110.90 330.00,110.10 332.50,110.10 332.50,108.60 334.68,108.60 334.68,107.50 336.85,107.50 336.85,106.40 339.02,106.40 339.02,105.30 341.20,105.30 341.20,104.20 343.27,104.20 343.27,103.40 345.33,103.40 345.33,102.60 347.40,102.60 347.40,101.80 349.57,101.80 349.57,101.33 351.75,101.33 351.75,100.85 353.93,100.85 353.93,100.38 356.10,100.38 356.10,99.90 359.25,99.90 359.25,99.60 362.40,99.60 362.40,99.30 364.88,99.30 364.88,99.30 367.37,99.30 367.37,99.30 369.85,99.30 369.85,99.30 372.33,99.30 372.33,99.30 374.82,99.30 374.82,99.30 377.30,99.30 377.30,99.30 379.80,99.30 379.80,98.47 382.30,98.47 382.30,97.63 384.80,97.63 384.80,96.80 387.27,96.80 387.27,96.33 389.75,96.33 389.75,95.85 392.23,95.85 392.23,95.38 394.70,95.38 394.70,94.90 397.35,94.90 397.35,93.95 400.00,93.95 400.00,93.00 402.33,93.00 402.33,92.96 404.67,92.96 404.67,92.92 407.00,92.92 407.00,92.88 409.33,92.88 409.33,92.83 411.67,92.83 411.67,92.79 414.00,92.79 414.00,92.75 416.33,92.75 416.33,92.71 418.67,92.71 418.67,92.67 421.00,92.67 421.00,92.62 423.33,92.62 423.33,92.58 425.67,92.58 425.67,92.54 428.00,92.54 428.00,92.50 429.75,92.50 429.75,90.89 431.50,90.89 431.50,89.00 434.23,89.00 434.23,88.40 436.97,88.40 436.97,87.80 439.70,87.80 439.70,87.20 442.05,87.20 442.05,86.60 444.40,86.60 444.40,86.00 446.61,86.00 446.61,85.81 448.82,85.81 448.82,85.62 451.03,85.62 451.03,85.43 453.24,85.43 453.24,85.24 455.46,85.24 455.46,85.06 457.67,85.06 457.67,84.87 459.88,84.87 459.88,84.68 462.09,84.68 462.09,84.49 464.30,84.49 464.30,84.30 467.80,84.30 467.80,83.10 470.01,83.10 470.01,83.11 472.23,83.11 472.23,83.12 474.44,83.12 474.44,83.14 476.65,83.14 476.65,83.15 478.86,83.15 478.86,83.16 481.07,83.16 481.07,83.17 483.29,83.17 483.29,83.19 485.50,83.19 485.50,83.20 488.15,83.20 488.15,82.00 490.80,82.00 490.80,80.80 493.05,80.80 493.05,80.80 495.30,80.80 495.30,80.80 497.54,80.80 497.54,80.80 499.79,80.80 499.79,80.80 502.04,80.80 502.04,80.80 504.29,80.80 504.29,80.80 506.54,80.80 506.54,80.80 508.78,80.80 508.78,80.80 511.03,80.80 511.03,80.80 513.28,80.80 513.28,80.80 515.53,80.80 515.53,80.80 517.78,80.80 517.78,80.80 520.02,80.80 520.02,80.80 522.27,80.80 522.27,80.80 524.52,80.80 524.52,80.80 526.77,80.80 526.77,80.80 529.02,80.80 529.02,80.80 531.26,80.80 531.26,80.80 533.51,80.80 533.51,80.80 535.76,80.80 535.76,80.80 538.01,80.80 538.01,80.80 540.26,80.80 540.26,80.80 542.50,80.80 542.50,80.80 544.75,80.80 544.75,80.80 547.00,80.80 547.00,80.80 548.00,80.80 548.00,79.80 550.40,79.80 550.40,79.80 552.80,79.80 552.80,79.80 555.20,79.80 555.20,79.80 557.60,79.80 557.60,79.80 560.00,79.80 560.00,79.80 560.50,79.80 560.50,79.30 562.82,79.30 562.82,79.30 565.14,79.30 565.14,79.30 567.46,79.30 567.46,79.30 569.79,79.30 569.79,79.30 572.11,79.30 572.11,79.30 574.43,79.30 574.43,79.30 576.75,79.30 576.75,79.30 579.07,79.30 579.07,79.30 581.39,79.30 581.39,79.30 583.71,79.30 583.71,79.30 586.04,79.30 586.04,79.30 588.36,79.30 588.36,79.30 590.68,79.30 590.68,79.30 593.00,79.30 593.00,79.30 593.50,79.30 593.50,77.10 595.75,77.10 595.75,77.09 598.00,77.09 598.00,77.08 600.25,77.08 600.25,77.07 602.50,77.07 602.50,77.06 604.75,77.06 604.75,77.05 607.00,77.05 607.00,77.04 609.25,77.04 609.25,77.03 611.50,77.03 611.50,77.02 613.75,77.02 613.75,77.01 616.00,77.01 616.00,77.00 618.25,77.00 618.25,76.99 620.50,76.99 620.50,76.98 622.75,76.98 622.75,76.97 625.00,76.97 625.00,76.96 627.25,76.96 627.25,76.95 629.50,76.95 629.50,76.94 631.75,76.94 631.75,76.93 634.00,76.93 634.00,76.92 636.25,76.92 636.25,76.91 638.50,76.91 638.50,76.90 640.75,76.90 640.75,76.89 643.00,76.89 643.00,76.88 645.25,76.88 645.25,76.87 647.50,76.87 647.50,76.86 649.75,76.86 649.75,76.85 652.00,76.85 652.00,76.84 654.25,76.84 654.25,76.83 656.50,76.83 656.50,76.82 658.75,76.82 658.75,76.81 661.00,76.81 661.00,76.80" stroke="#10f0f0"/>
<polyline points="99.00,459.30 99.71,459.30 99.71,456.92 99.97,456.92 99.97,454.53 99.59,454.53 99.59,452.15 100.15,452.15 100.15,449.77 100.50,449.77 100.50,447.38 100.50,447.38 100.50,445.00 101.22,445.00 101.22,442.50 101.50,442.50 101.50,440.00 102.36,440.00 102.36,437.50 102.14,437.50 102.14,435.00 102.41,435.00 102.41,432.50 103.00,432.50 103.00,430.00 103.61,430.00 103.61,427.50 103.78,427.50 103.78,425.00 104.52,425.00 104.52,422.50 105.50,422.50 105.50,420.00 106.55,420.00 106.55,417.50 107.00,417.50 107.00,415.00 107.18,415.00 107.18,412.50 108.30,412.50 108.30,410.00 108.65,410.00 108.65,407.50 110.05,407.50 110.05,405.00 110.65,405.00 110.65,402.50 110.90,402.50 110.90,400.00 111.45,400.00 111.45,397.68 112.49,397.68 112.49,395.35 112.79,395.35 112.79,393.02 113.49,393.02 113.49,390.70 114.03,390.70 114.03,388.38 114.63,388.38 114.63,386.05 115.57,386.05 115.57,383.72 116.10,383.72 116.10,381.40 116.67,381.40 116.67,379.10 116.98,379.10 116.98,376.80 117.63,376.80 117.63,374.50 118.31,374.50 118.31,372.20 118.41,372.20 118.41,369.90 118.84,369.90 118.84,367.60 119.30,367.60 119.30,365.30 120.10,365.30 120.10,363.00 121.04,363.00 121.04,360.70 121.15,360.70 121.15,358.40 121.52,358.40 121.52,356.10 121.45,356.10 121.45,353.80 122.40,353.80 122.40,351.50 122.43,351.50 122.43,349.20 123.33,349.20 123.33,346.90 124.20,346.90 124.20,344.60 124.43,344.60 124.43,342.30 124.80,342.30 124.80,340.00 125.99,340.00 125.99,337.65 126.46,337.65 126.46,335.30 126.88,335.30 126.88,332.95 127.60,332.95 127.60,330.60 128.99,330.60 128.99,328.52 129.46,328.52 129.46,326.44 130.58,326.44 130.58,324.36 131.51,324.36 131.51,322.28 132.20,322.28 132.20,320.20 133.24,320.20 133.24,317.90 133.63,317.90 133.63,315.60 134.46,315.60 134.46,313.30 135.96,313.30 135.96,311.00 136.30,311.00 136.30,308.70 137.20,308.70 137.20,306.40 137.53,306.40 137.53,304.10 137.47,304.10 137.47,301.80 137.95,301.80 137.95,299.50 138.60,299.50 138.60,297.20 139.23,297.20 139.23,294.62 139.59,294.62 139.59,292.05 139.90,292.05 139.90,289.47 140.90,289.47 140.90,286.90 141.70,286.90 141.70,284.60 142.40,284.60 142.40,282.30 143.20,282.30 143.20,280.00 144.25,280.00 144.25,277.75 145.58,277.75 145.58,275.50 146.94,275.50 146.94,273.25 148.40,273.25 148.40,271.00 149.39,271.00 149.39,269.08 150.60,269.08 150.60,267.17 152.19,267.17 152.19,265.25 153.24,265.25 153.24,263.33 154.57,263.33 154.57,261.42 155.90,261.42 155.90,259.50 157.25,259.50 157.25,257.58 158.83,257.58 158.83,255.67 161.04,255.67 161.04,253.75 162.46,253.75 162.46,251.83 164.28,251.83 164.28,249.92 165.60,249.92 165.60,248.00 166.41,248.00 166.41,245.70 167.82,245.70 167.82,243.40 169.45,243.40 169.45,241.10 171.20,241.10 171.20,238.80 172.00,238.80 172.00,236.50 172.55,236.50 172.55,234.33 174.20,234.33 174.20,232.17 174.80,232.17 174.80,230.00 175.84,230.00 175.84,227.50 177.10,227.50 177.10,225.00 177.78,225.00 177.78,223.03 179.62,223.03 179.62,221.05 180.82,221.05 180.82,219.07 181.60,219.07 181.60,217.10 182.84,217.10 182.84,215.37 184.79,215.37 184.79,213.63 185.80,213.63 185.80,211.90 187.44,211.90 187.44,210.05 189.08,210.05 189.08,208.20 191.63,208.20 191.63,206.35 193.20,206.35 193.20,204.50 194.15,204.50 194.15,202.38 195.56,202.38 195.56,200.25 197.57,200.25 197.57,198.12 198.50,198.12 198.50,196.00 199.39,196.00 199.39,193.90 200.03,193.90 200.03,191.80 201.33,191.80 201.33,189.70 202.01,189.70 202.01,187.60 202.70,187.60 202.70,185.50 204.49,185.50 204.49,183.33 206.49,183.33 206.49,181.17 208.00,181.17 208.00,179.00 209.50,179.00 209.50,175.00 210.27,175.00 210.27,172.57 211.87,172.57 211.87,170.15 213.71,170.15 213.71,167.73 214.50,167.73 214.50,165.30 216.34,165.30 216.34,163.47 218.18,163.47 218.18,162.29 220.02,162.29 220.02,160.44 221.86,160.44 221.86,158.89 223.70,158.89 223.70,157.20 226.40,157.20 226.40,156.07 229.10,156.07 229.10,154.93 231.80,154.93 231.80,153.80 233.81,153.80 233.81,151.87 235.66,151.87 235.66,149.93 237.50,149.93 237.50,148.00 239.22,148.00 239.22,146.32 240.95,146.32 240.95,145.34 242.68,145.34 242.68,143.92 244.40,143.92 244.40,142.30 246.12,142.30 246.12,140.61 247.85,140.61 247.85,139.11 249.58,139.11 249.58,137.98 251.30,137.98 251.30,136.50 253.10,136.50 253.10,135.13 254.90,135.13 254.90,133.45 256.70,133.45 256.70,131.60 258.93,131.60 258.93,130.70 261.17,130.70 261.17,129.80 263.40,129.80 263.40,128.90 265.63,128.90 265.63,128.43 267.87,128.43 267.87,127.97 270.10,127.97 270.10,127.50 272.33,127.50 272.33,126.17 274.57,126.17 274.57,124.83 276.80,124.83 276.80,123.50 279.15,123.50 279.15,122.15 281.50,122.15 281.50,120.80 283.85,120.80 283.85,119.45 286.20,119.45 286.20,118.10 288.34,118.10 288.34,117.04 290.48,117.04 290.48,115.98 292.62,115.98 292.62,114.92 294.76,114.92 294.76,113.86 296.90,113.86 296.90,112.80 299.13,112.80 299.13,112.13 301.37,112.13 301.37,111.47 303.60,111.47 303.60,110.80 305.83,110.80 305.83,110.13 308.07,110.13 308.07,109.47 310.30,109.47 310.30,108.80 312.65,108.80 312.65,108.30 315.00,108.30 315.00,107.80 317.35,107.80 317.35,107.30 319.70,107.30 319.70,106.80 322.35,106.80 322.35,106.45 325.00,106.45 325.00,106.10 327.50,106.10 327.50,104.67 330.00,104.67 330.00,103.23 332.50,103.23 332.50,101.80 334.68,101.80 334.68,100.85 336.85,100.85 336.85,99.90 339.02,99.90 339.02,98.95 341.20,98.95 341.20,98.00 343.38,98.00 343.38,96.92 345.55,96.92 345.55,95.85 347.72,95.85 347.72,94.78 349.90,94.78 349.90,93.70 352.40,93.70 352.40,92.75 354.90,92.75 354.90,91.80 357.40,91.80 357.40,90.85 359.90,90.85 359.90,89.90 362.07,89.90 362.07,89.43 364.25,89.43 364.25,88.95 366.43,88.95 366.43,88.47 368.60,88.47 368.60,88.00 370.78,88.00 370.78,87.55 372.95,87.55 372.95,87.10 375.12,87.10 375.12,86.65 377.30,86.65 377.30,86.20 379.80,86.20 379.80,85.72 382.30,85.72 382.30,85.25 384.80,85.25 384.80,84.78 387.30,84.78 387.30,84.30 389.78,84.30 389.78,83.94 392.26,83.94 392.26,83.58 394.74,83.58 394.74,83.22 397.22,83.22 397.22,82.86 399.70,82.86 399.70,82.50 402.35,82.50 402.35,81.55 405.00,81.55 405.00,80.60 407.22,80.60 407.22,80.49 409.44,80.49 409.44,80.38 411.67,80.38 411.67,80.27 413.89,80.27 413.89,80.16 416.11,80.16 416.11,80.04 418.33,80.04 418.33,79.93 420.56,79.93 420.56,79.82 422.78,79.82 422.78,79.71 425.00,79.71 425.00,79.60 427.38,79.60 427.38,79.50 429.75,79.50 429.75,79.40 432.12,79.40 432.12,79.30 434.50,79.30 434.50,79.20 436.88,79.20 436.88,79.10 439.25,79.10 439.25,79.00 441.62,79.00 441.62,78.90 444.00,78.90 444.00,78.80 446.43,78.80 446.43,78.58 448.85,78.58 448.85,78.35 451.27,78.35 451.27,78.12 453.70,78.12 453.70,77.90 456.09,77.90 456.09,77.85 458.48,77.85 458.48,77.79 460.87,77.79 460.87,77.74 463.26,77.74 463.26,77.68 465.65,77.68 465.65,77.63 468.05,77.63 468.05,77.57 470.44,77.57 470.44,77.52 472.83,77.52 472.83,77.46 475.22,77.46 475.22,77.41 477.61,77.41 477.61,77.35 480.00,77.35 480.00,77.30 482.20,77.30 482.20,77.28 484.40,77.28 484.40,77.27 486.60,77.27 486.60,77.25 488.80,77.25 488.80,77.23 491.00,77.23 491.00,77.22 493.20,77.22 493.20,77.20 495.40,77.20 495.40,77.18 497.60,77.18 497.60,77.17 499.80,77.17 499.80,77.15 502.00,77.15 502.00,77.13 504.20,77.13 504.20,77.12 506.40,77.12 506.40,77.10 508.60,77.10 508.60,77.08 510.80,77.08 510.80,77.07 513.00,77.07 513.00,77.05 515.20,77.05 515.20,77.03 517.40,77.03 517.40,77.02 519.60,77.02 519.60,77.00 521.80,77.00 521.80,76.98 524.00,76.98 524.00,76.97 526.20,76.97 526.20,76.95 528.40,76.95 528.40,76.93 530.60,76.93 530.60,76.92 532.80,76.92 532.80,76.90 535.00,76.90 535.00,76.88 537.20,76.88 537.20,76.87 539.40,76.87 539.40,76.85 541.60,76.85 541.60,76.83 543.80,76.83 543.80,76.82 546.00,76.82 546.00,76.80 548.33,76.80 548.33,76.78 550.67,76.78 550.67,76.76 553.00,76.76 553.00,76.73 555.33,76.73 555.33,76.71 557.67,76.71 557.67,76.69 560.00,76.69 560.00,76.67 562.33,76.67 562.33,76.64 564.67,76.64 564.67,76.62 567.00,76.62 567.00,76.60 567.50,76.60 567.50,75.20 569.89,75.20 569.89,75.20 572.28,75.20 572.28,75.20 574.67,75.20 574.67,75.20 577.06,75.20 577.06,75.20 579.44,75.20 579.44,75.20 581.83,75.20 581.83,75.20 584.22,75.20 584.22,75.20 586.61,75.20 586.61,75.20 589.00,75.20 589.00,75.20 589.50,75.20 589.50,72.60 591.73,72.60 591.73,72.60 593.97,72.60 593.97,72.60 596.20,72.60 596.20,72.60 598.44,72.60 598.44,72.60 600.67,72.60 600.67,72.60 602.91,72.60 602.91,72.60 605.14,72.60 605.14,72.60 607.38,72.60 607.38,72.60 609.61,72.60 609.61,72.60 611.84,72.60 611.84,72.60 614.08,72.60 614.08,72.60 616.31,72.60 616.31,72.60 618.55,72.60 618.55,72.60 620.78,72.60 620.78,72.60 623.02,72.60 623.02,72.60 625.25,72.60 625.25,72.60 627.48,72.60 627.48,72.60 629.72,72.60 629.72,72.60 631.95,72.60 631.95,72.60 634.19,72.60 634.19,72.60 636.42,72.60 636.42,72.60 638.66,72.60 638.66,72.60 640.89,72.60 640.89,72.60 643.12,72.60 643.12,72.60 645.36,72.60 645.36,72.60 647.59,72.60 647.59,72.60 649.83,72.60 649.83,72.60 652.06,72.60 652.06,72.60 654.30,72.60 654.30,72.60 656.53,72.60 656.53,72.60 658.77,72.60 658.77,72.60 661.00,72.60 661.00,72.60" stroke="#a8b418"/>
<polyline points="98.60,459.30 98.29,459.30 98.29,456.92 98.90,456.92 98.90,454.53 99.05,454.53 99.05,452.15 98.47,452.15 98.47,449.77 98.29,449.77 98.29,447.38 98.80,447.38 98.80,445.00 99.04,445.00 99.04,442.50 98.95,442.50 98.95,440.00 99.18,440.00 99.18,437.50 99.00,437.50 99.00,435.00 99.29,435.00 99.29,432.75 99.72,432.75 99.72,430.50 99.67,430.50 99.67,428.25 100.50,428.25 100.50,426.00 101.53,426.00 101.53,423.25 102.50,423.25 102.50,420.50 103.47,420.50 103.47,418.40 103.78,418.40 103.78,416.30 104.91,416.30 104.91,414.20 105.75,414.20 105.75,412.10 106.00,412.10 106.00,410.00 106.78,410.00 106.78,407.50 106.35,407.50 106.35,405.00 106.92,405.00 106.92,402.50 107.50,402.50 107.50,400.00 108.39,400.00 108.39,397.35 108.99,397.35 108.99,394.70 109.58,394.70 109.58,392.05 110.30,392.05 110.30,389.40 110.47,389.40 110.47,386.73 111.32,386.73 111.32,384.07 112.10,384.07 112.10,381.40 112.15,381.40 112.15,379.10 112.54,379.10 112.54,376.80 112.79,376.80 112.79,374.50 113.20,374.50 113.20,372.20 113.57,372.20 113.57,369.90 113.94,369.90 113.94,367.60 114.30,367.60 114.30,365.30 115.00,365.30 115.00,363.00 115.40,363.00 115.40,360.33 116.53,360.33 116.53,357.67 116.70,357.67 116.70,355.00 117.75,355.00 117.75,352.10 118.40,352.10 118.40,349.20 119.69,349.20 119.69,346.30 120.10,346.30 120.10,343.40 120.60,343.40 120.60,340.00 120.62,340.00 120.62,337.65 121.38,337.65 121.38,335.30 122.20,335.30 122.20,332.95 122.50,332.95 122.50,330.60 123.46,330.60 123.46,328.30 123.64,328.30 123.64,326.00 124.35,326.00 124.35,323.70 124.80,323.70 124.80,321.40 125.76,321.40 125.76,319.47 126.92,319.47 126.92,317.53 128.20,317.53 128.20,315.60 128.55,315.60 128.55,313.30 128.54,313.30 128.54,311.00 128.80,311.00 128.80,308.70 129.32,308.70 129.32,306.40 129.34,306.40 129.34,304.10 129.62,304.10 129.62,301.80 130.00,301.80 130.00,299.50 130.03,299.50 130.03,296.83 130.25,296.83 130.25,294.17 131.10,294.17 131.10,291.50 132.12,291.50 132.12,289.20 132.20,289.20 132.20,286.90 133.50,286.90 133.50,283.00 134.62,283.00 134.62,280.50 136.00,280.50 136.00,278.00 137.07,278.00 137.07,275.65 138.00,275.65 138.00,273.30 138.65,273.30 138.65,270.60 139.82,270.60 139.82,267.90 140.30,267.90 140.30,265.20 141.30,265.20 141.30,262.90 141.45,262.90 141.45,260.60 142.60,260.60 142.60,258.30 143.30,258.30 143.30,255.73 144.36,255.73 144.36,253.15 144.96,253.15 144.96,250.57 146.10,250.57 146.10,248.00 146.45,248.00 146.45,245.70 147.28,245.70 147.28,243.40 147.45,243.40 147.45,241.10 147.80,241.10 147.80,238.80 149.25,238.80 149.25,235.90 150.10,235.90 150.10,233.00 152.40,233.00 152.40,229.60 153.33,229.60 153.33,227.20 154.08,227.20 154.08,224.80 154.70,224.80 154.70,222.40 155.54,222.40 155.54,219.93 156.41,219.93 156.41,217.47 156.80,217.47 156.80,215.00 159.50,215.00 159.50,211.90 162.09,211.90 162.09,209.80 163.70,209.80 163.70,207.70 165.30,207.70 165.30,206.29 166.90,206.29 166.90,204.50 168.43,204.50 168.43,202.40 170.00,202.40 170.00,200.30 170.42,200.30 170.42,198.20 171.02,198.20 171.02,196.10 172.10,196.10 172.10,194.00 172.28,194.00 172.28,191.88 173.59,191.88 173.59,189.75 174.23,189.75 174.23,187.62 174.80,187.62 174.80,185.50 177.40,185.50 177.40,183.00 178.95,183.00 178.95,181.10 180.00,181.10 180.00,179.20 182.41,179.20 182.41,176.85 184.60,176.85 184.60,174.50 186.60,174.50 186.60,172.97 188.60,172.97 188.60,171.00 189.76,171.00 189.76,168.33 190.11,168.33 190.11,165.67 191.50,165.67 191.50,163.00 192.00,163.00 192.00,160.70 192.97,160.70 192.97,158.40 193.58,158.40 193.58,156.10 194.40,156.10 194.40,153.80 197.00,153.80 197.00,151.83 199.60,151.83 199.60,150.30 203.00,150.30 203.00,148.00 204.04,148.00 204.04,145.15 204.70,145.15 204.70,142.30 205.46,142.30 205.46,139.40 207.00,139.40 207.00,136.50 210.00,136.50 210.00,133.40 212.65,133.40 212.65,133.20 215.30,133.20 215.30,133.00 215.80,133.00 215.80,130.30 217.70,130.30 217.70,128.70 219.60,128.70 219.60,127.16 221.50,127.16 221.50,125.70 222.70,125.70 222.70,122.60 225.30,122.60 225.30,120.30 228.00,120.30 228.00,119.90 230.70,119.90 230.70,119.50 233.75,119.50 233.75,119.35 236.80,119.35 236.80,119.20 238.75,119.20 238.75,118.10 240.70,118.10 240.70,116.50 242.73,116.50 242.73,115.47 244.77,115.47 244.77,114.43 246.80,114.43 246.80,113.40 249.85,113.40 249.85,113.00 252.90,113.00 252.90,112.60 254.10,112.60 254.10,109.20 256.55,109.20 256.55,107.17 259.00,107.17 259.00,105.00 261.20,105.00 261.20,104.20 263.40,104.20 263.40,103.40 265.63,103.40 265.63,102.50 267.87,102.50 267.87,101.60 270.10,101.60 270.10,100.70 272.05,100.70 272.05,99.07 274.00,99.07 274.00,98.00 276.31,98.00 276.31,97.81 278.63,97.81 278.63,97.63 280.94,97.63 280.94,97.44 283.26,97.44 283.26,97.26 285.57,97.26 285.57,97.07 287.89,97.07 287.89,96.89 290.20,96.89 290.20,96.70 292.47,96.70 292.47,96.03 294.73,96.03 294.73,95.37 297.00,95.37 297.00,94.70 299.20,94.70 299.20,94.27 301.40,94.27 301.40,93.83 303.60,93.83 303.60,93.40 306.30,93.40 306.30,92.35 309.00,92.35 309.00,91.30 311.68,91.30 311.68,90.97 314.35,90.97 314.35,90.65 317.02,90.65 317.02,90.33 319.70,90.33 319.70,90.00 322.35,90.00 322.35,88.70 325.00,88.70 325.00,87.40 327.50,87.40 327.50,87.00 330.00,87.00 330.00,86.60 332.50,86.60 332.50,86.20 334.68,86.20 334.68,85.58 336.85,85.58 336.85,84.95 339.02,84.95 339.02,84.33 341.20,84.33 341.20,83.70 345.00,83.70 345.00,82.70 347.36,82.70 347.36,82.68 349.72,82.68 349.72,82.66 352.08,82.66 352.08,82.64 354.44,82.64 354.44,82.62 356.80,82.62 356.80,82.60 359.16,82.60 359.16,82.58 361.52,82.58 361.52,82.56 363.88,82.56 363.88,82.54 366.24,82.54 366.24,82.52 368.60,82.52 368.60,82.50 371.00,82.50 371.00,81.00 373.36,81.00 373.36,80.89 375.71,80.89 375.71,80.78 378.07,80.78 378.07,80.67 380.42,80.67 380.42,80.56 382.78,80.56 382.78,80.44 385.13,80.44 385.13,80.33 387.49,80.33 387.49,80.22 389.84,80.22 389.84,80.11 392.20,80.11 392.20,80.00 394.00,80.00 394.00,78.80 396.35,78.80 396.35,78.68 398.69,78.68 398.69,78.57 401.04,78.57 401.04,78.45 403.38,78.45 403.38,78.34 405.73,78.34 405.73,78.22 408.08,78.22 408.08,78.11 410.42,78.11 410.42,77.99 412.77,77.99 412.77,77.88 415.12,77.88 415.12,77.76 417.46,77.76 417.46,77.65 419.81,77.65 419.81,77.53 422.15,77.53 422.15,77.42 424.50,77.42 424.50,77.30 426.84,77.30 426.84,77.15 429.18,77.15 429.18,77.00 431.51,77.00 431.51,76.85 433.85,76.85 433.85,76.70 436.19,76.70 436.19,76.55 438.52,76.55 438.52,76.40 440.86,76.40 440.86,76.25 443.20,76.25 443.20,76.10 445.82,76.10 445.82,75.80 448.45,75.80 448.45,75.50 451.07,75.50 451.07,75.20 453.70,75.20 453.70,74.90 455.90,74.90 455.90,74.90 458.10,74.90 458.10,74.90 460.31,74.90 460.31,74.90 462.51,74.90 462.51,74.90 464.71,74.90 464.71,74.90 466.91,74.90 466.91,74.90 469.12,74.90 469.12,74.90 471.32,74.90 471.32,74.90 473.52,74.90 473.52,74.90 475.72,74.90 475.72,74.90 477.93,74.90 477.93,74.90 480.13,74.90 480.13,74.90 482.33,74.90 482.33,74.90 484.53,74.90 484.53,74.90 486.73,74.90 486.73,74.90 488.94,74.90 488.94,74.90 491.14,74.90 491.14,74.90 493.34,74.90 493.34,74.90 495.54,74.90 495.54,74.90 497.75,74.90 497.75,74.90 499.95,74.90 499.95,74.90 502.15,74.90 502.15,74.90 504.35,74.90 504.35,74.90 506.55,74.90 506.55,74.90 508.76,74.90 508.76,74.90 510.96,74.90 510.96,74.90 513.16,74.90 513.16,74.90 515.36,74.90 515.36,74.90 517.57,74.90 517.57,74.90 519.77,74.90 519.77,74.90 521.97,74.90 521.97,74.90 524.17,74.90 524.17,74.90 526.38,74.90 526.38,74.90 528.58,74.90 528.58,74.90 530.78,74.90 530.78,74.90 532.98,74.90 532.98,74.90 535.18,74.90 535.18,74.90 537.39,74.90 537.39,74.90 539.59,74.90 539.59,74.90 541.79,74.90 541.79,74.90 543.99,74.90 543.99,74.90 546.20,74.90 546.20,74.90 548.40,74.90 548.40,74.90 550.60,74.90 550.60,74.90 551.00,74.90 551.00,73.80 553.24,73.80 553.24,73.80 555.49,73.80 555.49,73.80 557.73,73.80 557.73,73.80 559.98,73.80 559.98,73.80 562.22,73.80 562.22,73.80 564.47,73.80 564.47,73.80 566.71,73.80 566.71,73.80 568.96,73.80 568.96,73.80 571.20,73.80 571.20,73.80 573.45,73.80 573.45,73.80 575.69,73.80 575.69,73.80 577.94,73.80 577.94,73.80 580.18,73.80 580.18,73.80 582.43,73.80 582.43,73.80 584.67,73.80 584.67,73.80 586.92,73.80 586.92,73.80 589.16,73.80 589.16,73.80 591.41,73.80 591.41,73.80 593.65,73.80 593.65,73.80 595.90,73.80 595.90,73.80 598.14,73.80 598.14,73.80 600.39,73.80 600.39,73.80 602.63,73.80 602.63,73.80 604.88,73.80 604.88,73.80 607.12,73.80 607.12,73.80 609.37,73.80 609.37,73.80 611.61,73.80 611.61,73.80 613.86,73.80 613.86,73.80 616.10,73.80 616.10,73.80 618.35,73.80 618.35,73.80 620.59,73.80 620.59,73.80 622.84,73.80 622.84,73.80 625.08,73.80 625.08,73.80 627.33,73.80 627.33,73.80 629.57,73.80 629.57,73.80 631.82,73.80 631.82,73.80 634.06,73.80 634.06,73.80 636.31,73.80 636.31,73.80 638.55,73.80 638.55,73.80 640.80,73.80 640.80,73.80 643.04,73.80 643.04,73.80 645.29,73.80 645.29,73.80 647.53,73.80 647.53,73.80 649.78,73.80 649.78,73.80 652.02,73.80 652.02,73.80 654.27,73.80 654.27,73.80 656.51,73.80 656.51,73.80 658.76,73.80 658.76,73.80 661.00,73.80 661.00,73.80" stroke="#000000"/>
</g>
<rect x="96.2" y="39.6" width="564.1999999999999" height="422.2" fill="none" stroke="#7c7c7c" stroke-width="1.9"/>
<g font-family="Liberation Sans, sans-serif" font-weight="bold" font-size="13" fill="#000">
<text transform="translate(99.50,480.20) scale(1.12,1)" text-anchor="middle">0</text>
<text transform="translate(139.30,480.20) scale(1.12,1)" text-anchor="middle">0</text>
<text transform="translate(146.10,480.20) scale(1.4,1.35)" text-anchor="middle">.</text>
<text transform="translate(153.50,480.20) scale(1.12,1)" text-anchor="middle">0</text>
<text transform="translate(162.30,480.20) scale(1.02,1)" text-anchor="middle">5</text>
<text transform="translate(195.70,480.20) scale(1.12,1)" text-anchor="middle">0</text>
<text transform="translate(202.50,480.20) scale(1.4,1.35)" text-anchor="middle">.</text>
<text transform="translate(209.70,480.20) scale(0.85,1)" text-anchor="middle">1</text>
<text transform="translate(241.90,480.20) scale(1.12,1)" text-anchor="middle">0</text>
<text transform="translate(248.70,480.20) scale(1.4,1.35)" text-anchor="middle">.</text>
<text transform="translate(255.90,480.20) scale(0.85,1)" text-anchor="middle">1</text>
<text transform="translate(264.90,480.20) scale(1.02,1)" text-anchor="middle">5</text>
<text transform="translate(297.60,480.20) scale(1.12,1)" text-anchor="middle">0</text>
<text transform="translate(304.40,480.20) scale(1.4,1.35)" text-anchor="middle">.</text>
<text transform="translate(311.80,480.20) scale(1.08,1)" text-anchor="middle">2</text>
<text transform="translate(344.50,480.20) scale(1.12,1)" text-anchor="middle">0</text>
<text transform="translate(351.30,480.20) scale(1.4,1.35)" text-anchor="middle">.</text>
<text transform="translate(358.70,480.20) scale(1.08,1)" text-anchor="middle">2</text>
<text transform="translate(367.50,480.20) scale(1.02,1)" text-anchor="middle">5</text>
<text transform="translate(400.20,480.20) scale(1.12,1)" text-anchor="middle">0</text>
<text transform="translate(407.00,480.20) scale(1.4,1.35)" text-anchor="middle">.</text>
<text transform="translate(414.40,480.20) scale(1.08,1)" text-anchor="middle">3</text>
<text transform="translate(447.10,480.20) scale(1.12,1)" text-anchor="middle">0</text>
<text transform="translate(453.90,480.20) scale(1.4,1.35)" text-anchor="middle">.</text>
<text transform="translate(461.30,480.20) scale(1.08,1)" text-anchor="middle">3</text>
<text transform="translate(470.10,480.20) scale(1.02,1)" text-anchor="middle">5</text>
<text transform="translate(502.80,480.20) scale(1.12,1)" text-anchor="middle">0</text>
<text transform="translate(509.60,480.20) scale(1.4,1.35)" text-anchor="middle">.</text>
<text transform="translate(517.00,480.20) scale(1.08,1)" text-anchor="middle">4</text>
<text transform="translate(549.70,480.20) scale(1.12,1)" text-anchor="middle">0</text>
<text transform="translate(556.50,480.20) scale(1.4,1.35)" text-anchor="middle">.</text>
<text transform="translate(563.90,480.20) scale(1.08,1)" text-anchor="middle">4</text>
<text transform="translate(572.70,480.20) scale(1.02,1)" text-anchor="middle">5</text>
<text transform="translate(605.40,480.20) scale(1.12,1)" text-anchor="middle">0</text>
<text transform="translate(612.20,480.20) scale(1.4,1.35)" text-anchor="middle">.</text>
<text transform="translate(619.60,480.20) scale(1.02,1)" text-anchor="middle">5</text>
<text transform="translate(88.90,464.70) scale(1.12,1)" text-anchor="middle">0</text>
<text transform="translate(74.70,425.95) scale(1.12,1)" text-anchor="middle">0</text>
<text transform="translate(81.50,425.95) scale(1.4,1.35)" text-anchor="middle">.</text>
<text transform="translate(88.70,425.95) scale(0.85,1)" text-anchor="middle">1</text>
<text transform="translate(74.70,387.20) scale(1.12,1)" text-anchor="middle">0</text>
<text transform="translate(81.50,387.20) scale(1.4,1.35)" text-anchor="middle">.</text>
<text transform="translate(88.90,387.20) scale(1.08,1)" text-anchor="middle">2</text>
<text transform="translate(74.70,348.45) scale(1.12,1)" text-anchor="middle">0</text>
<text transform="translate(81.50,348.45) scale(1.4,1.35)" text-anchor="middle">.</text>
<text transform="translate(88.90,348.45) scale(1.08,1)" text-anchor="middle">3</text>
<text transform="translate(74.70,309.70) scale(1.12,1)" text-anchor="middle">0</text>
<text transform="translate(81.50,309.70) scale(1.4,1.35)" text-anchor="middle">.</text>
<text transform="translate(88.90,309.70) scale(1.08,1)" text-anchor="middle">4</text>
<text transform="translate(74.70,270.95) scale(1.12,1)" text-anchor="middle">0</text>
<text transform="translate(81.50,270.95) scale(1.4,1.35)" text-anchor="middle">.</text>
<text transform="translate(88.90,270.95) scale(1.02,1)" text-anchor="middle">5</text>
<text transform="translate(74.70,232.20) scale(1.12,1)" text-anchor="middle">0</text>
<text transform="translate(81.50,232.20) scale(1.4,1.35)" text-anchor="middle">.</text>
<text transform="translate(88.90,232.20) scale(1.08,1)" text-anchor="middle">6</text>
<text transform="translate(74.70,193.45) scale(1.12,1)" text-anchor="middle">0</text>
<text transform="translate(81.50,193.45) scale(1.4,1.35)" text-anchor="middle">.</text>
<text transform="translate(88.90,193.45) scale(1.08,1)" text-anchor="middle">7</text>
<text transform="translate(74.70,154.70) scale(1.12,1)" text-anchor="middle">0</text>
<text transform="translate(81.50,154.70) scale(1.4,1.35)" text-anchor="middle">.</text>
<text transform="translate(88.90,154.70) scale(1.08,1)" text-anchor="middle">8</text>
<text transform="translate(74.70,115.95) scale(1.12,1)" text-anchor="middle">0</text>
<text transform="translate(81.50,115.95) scale(1.4,1.35)" text-anchor="middle">.</text>
<text transform="translate(88.90,115.95) scale(1.08,1)" text-anchor="middle">9</text>
<text transform="translate(88.70,77.20) scale(0.85,1)" text-anchor="middle">1</text>
</g>
<path fill-rule="evenodd" fill="#000" d="M377.4,493.8 L383.3,508.3 L371.3,508.3 Z M376.2,499.2 L379.4,507.2 L373.2,507.2 Z"/>
<text transform="translate(60.2,255.9) rotate(-90)" text-anchor="middle" font-family="Liberation Serif, serif" font-size="24.45" fill="#000">Cumulative fraction</text>
<g font-family="Liberation Serif, serif" font-size="14.5" fill="#2b3a48">
<text x="469.0" y="154.7" font-size="14.25">Model (# of patches):</text>
<line x1="469.2" y1="157.6" x2="590.8" y2="157.6" stroke="#2b3a48" stroke-width="0.9"/>
<text x="425.3" y="182.4">426</text><text x="511.5" y="182.4">(5004 )</text>
<line x1="607" y1="178.8" x2="649" y2="178.8" stroke="#d01818" stroke-width="1.9"/>
<text x="425.3" y="210.0">425</text><text x="511.5" y="210.0">(4921 )</text>
<line x1="607" y1="205.9" x2="649" y2="205.9" stroke="#c030c0" stroke-width="1.9"/>
<text x="425.3" y="237.6">322</text><text x="511.5" y="237.6">(5137 )</text>
<line x1="607" y1="232.9" x2="649" y2="232.9" stroke="#2a9a3a" stroke-width="1.9"/>
<text x="425.3" y="265.2">438</text><text x="511.5" y="265.2">(5448 )</text>
<line x1="607" y1="260.0" x2="649" y2="260.0" stroke="#40d8e0" stroke-width="1.9"/>
<text x="425.3" y="292.8">409</text><text x="511.5" y="292.8">(4899 )</text>
<line x1="607" y1="287.0" x2="649" y2="287.0" stroke="#8a8a20" stroke-width="1.9"/>
<text x="425.5" y="320.4">CASP8 Native (4277 )</text>
<line x1="607" y1="314.1" x2="649" y2="314.1" stroke="#111" stroke-width="1.9"/>
</g>
</svg></body></html>
